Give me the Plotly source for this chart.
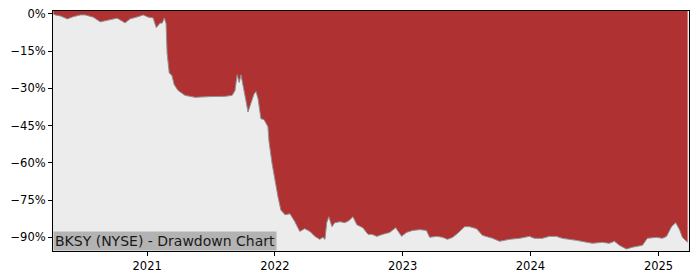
import plotly.graph_objects as go

dates = [
    "2020-04-08", "2020-04-13", "2020-04-28", "2020-05-18", "2020-06-04", "2020-06-24",
    "2020-07-08", "2020-07-31", "2020-08-20", "2020-09-17", "2020-10-07", "2020-10-30",
    "2020-11-13", "2020-12-06", "2020-12-21", "2021-01-04", "2021-01-18", "2021-01-27",
    "2021-02-07", "2021-02-13", "2021-02-19", "2021-02-24", "2021-02-27", "2021-03-05",
    "2021-03-13", "2021-03-19", "2021-03-30", "2021-04-19", "2021-05-18", "2021-06-30",
    "2021-08-12", "2021-09-01", "2021-09-09", "2021-09-15", "2021-09-21", "2021-09-26",
    "2021-10-02", "2021-10-11", "2021-10-16", "2021-10-25", "2021-11-02", "2021-11-08",
    "2021-11-14", "2021-11-22", "2021-12-01", "2021-12-12", "2021-12-15", "2021-12-24",
    "2022-01-01", "2022-01-10", "2022-01-18", "2022-01-30", "2022-02-13", "2022-02-27",
    "2022-03-13", "2022-03-27", "2022-04-11", "2022-04-25", "2022-05-09", "2022-05-18",
    "2022-05-24", "2022-05-29", "2022-06-04", "2022-06-13", "2022-06-21", "2022-07-06",
    "2022-07-20", "2022-07-31", "2022-08-12", "2022-08-23", "2022-09-09", "2022-09-24",
    "2022-10-05", "2022-10-19", "2022-11-05", "2022-11-25", "2022-12-12", "2022-12-29",
    "2023-01-12", "2023-01-30", "2023-02-19", "2023-03-10", "2023-03-19", "2023-04-08",
    "2023-04-25", "2023-05-09", "2023-05-24", "2023-06-07", "2023-06-27", "2023-07-11",
    "2023-07-31", "2023-08-17", "2023-09-15", "2023-10-05", "2023-11-02", "2023-12-01",
    "2023-12-29", "2024-01-12", "2024-02-04", "2024-02-24", "2024-03-15", "2024-04-01",
    "2024-05-11", "2024-06-09", "2024-06-26", "2024-07-24", "2024-08-13", "2024-08-28",
    "2024-09-11", "2024-10-01", "2024-10-18", "2024-11-16", "2024-11-30", "2024-12-26",
    "2025-01-12", "2025-01-24", "2025-02-07", "2025-02-19", "2025-03-02", "2025-03-10",
    "2025-03-25",
]

drawdown_pct = [
    0.0, -0.4, -0.8, -2.0, -1.1, -0.4,
    -0.4, -1.3, -3.2, -2.4, -1.7, -3.6,
    -2.0, -1.1, -0.4, -1.3, -1.6, -5.5,
    -3.7, -3.7, -1.6, -3.9, -15.8, -23.7,
    -24.9, -28.4, -30.8, -32.8, -33.6, -33.3,
    -33.2, -32.8, -30.8, -24.5, -27.6, -24.5,
    -28.4, -35.5, -39.5, -35.5, -32.4, -31.2,
    -34.3, -42.2, -42.6, -45.4, -51.3, -60.4,
    -67.1, -73.8, -79.0, -80.9, -80.5, -83.7,
    -87.6, -86.5, -87.6, -89.6, -90.8, -90.0,
    -90.8, -84.1, -81.7, -85.7, -84.1, -83.7,
    -84.1, -83.3, -81.7, -84.9, -86.1, -88.8,
    -88.8, -89.6, -88.8, -88.0, -86.1, -89.6,
    -88.0, -87.2, -86.9, -87.2, -90.0, -89.6,
    -90.0, -90.8, -90.0, -88.4, -85.7, -85.7,
    -86.5, -89.2, -90.4, -91.6, -90.8, -90.4,
    -89.6, -90.4, -90.4, -89.6, -89.6, -90.4,
    -91.2, -92.0, -92.4, -92.0, -92.4, -91.6,
    -93.2, -94.7, -94.0, -93.2, -90.4, -90.0,
    -90.4, -89.6, -85.7, -84.1, -86.9, -90.0,
    -92.0,
]

y_ticks = [0, -0.15, -0.30, -0.45, -0.60, -0.75, -0.90]
y_tick_labels = ["0%", "\u221215%", "\u221230%", "\u221245%", "\u221260%", "\u221275%", "\u221290%"]
x_ticks = ["2021-01-01", "2022-01-01", "2023-01-01", "2024-01-01", "2025-01-01"]
x_tick_labels = ["2021", "2022", "2023", "2024", "2025"]
title_text = "BKSY (NYSE) - Drawdown Chart"

dd = [v / 100.0 for v in drawdown_pct]
top = [0.05 for _ in dd]

fig = go.Figure()
fig.add_trace(go.Scatter(x=dates, y=top, mode="lines", line=dict(width=0),
                         hoverinfo="skip", showlegend=False))
fig.add_trace(go.Scatter(x=dates, y=dd, mode="lines", fill="tonexty",
                         fillcolor="#b03131", line=dict(color="#909090", width=1),
                         showlegend=False))

fig.update_layout(
    width=700, height=280,
    margin=dict(l=53, r=11, t=7, b=28),
    paper_bgcolor="white",
    plot_bgcolor="#ececec",
    font=dict(family="DejaVu Sans", size=11, color="black"),
    showlegend=False,
)
fig.update_xaxes(
    range=["2020-04-07", "2025-03-29"],
    tickvals=x_ticks, ticktext=x_tick_labels,
    showgrid=False, zeroline=False,
    showline=True, linecolor="black", linewidth=1, mirror=True,
    ticks="outside", ticklen=4, tickcolor="black",
    tickfont=dict(size=11.5),
)
fig.update_yaxes(
    range=[-0.955, 0.0118],
    tickvals=y_ticks, ticktext=y_tick_labels,
    showgrid=False, zeroline=False,
    showline=True, linecolor="black", linewidth=1, mirror=True,
    ticks="outside", ticklen=4, tickcolor="black",
    tickfont=dict(size=11.5),
)
fig.add_annotation(
    x=0, y=0, xref="paper", yref="paper", xanchor="left", yanchor="bottom",
    text=title_text, showarrow=False,
    font=dict(family="DejaVu Sans", size=14, color="#1a1a1a"),
    bgcolor="#b3b3b3", borderpad=1, xshift=0, yshift=0,
)

fig.write_html("out.html")
